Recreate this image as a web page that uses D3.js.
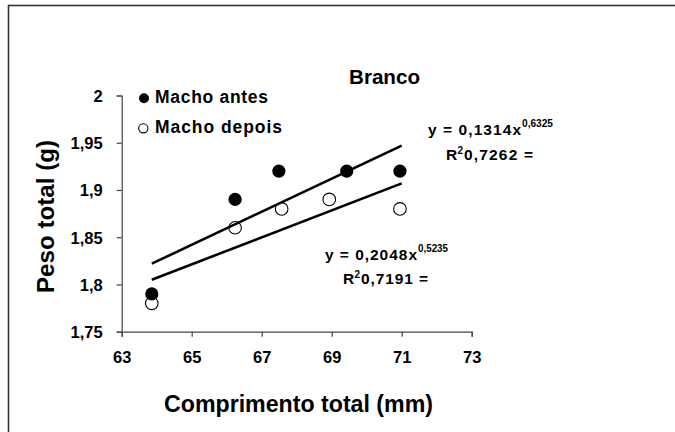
<!DOCTYPE html>
<html>
<head>
<meta charset="utf-8">
<script src="https://cdn.jsdelivr.net/npm/d3@7"></script>
<style>
html,body{margin:0;padding:0;background:#fff;}
text{font-family:Arial,"Liberation Sans",sans-serif;font-weight:bold;fill:#000;}
</style>
</head>
<body>
<svg id="chart" width="675" height="432"></svg>
<script>
// ---- data ----
const xTicks = [63, 65, 67, 69, 71, 73];
const yTicks = [1.75, 1.8, 1.85, 1.9, 1.95, 2];
const seriesNames = ["Macho antes", "Macho depois"];
const comprimentoAntes = [63.86, 66.24, 67.49, 69.43, 70.95];
const pesoAntes = [1.79, 1.89, 1.92, 1.92, 1.92];
const comprimentoDepois = [63.86, 66.24, 67.57, 68.93, 70.95];
const pesoDepois = [1.78, 1.86, 1.88, 1.89, 1.88];
const trendAntesX = [63.86, 71.0];
const trendAntesY = [1.822, 1.947];
const trendDepoisX = [63.86, 71.0];
const trendDepoisY = [1.805, 1.907];
const eqAntes = ["y = 0,1314x", "0,6325", "R", "2", "0,7262 ="];
const eqDepois = ["y = 0,2048x", "0,5235", "R", "2", "0,7191 ="];
const titleText = "Branco";
const xTitle = "Comprimento total (mm)";
const yTitle = "Peso total (g)";

const fmt = v => String(v).replace(".", ",");

const svg = d3.select("#chart");

// frame
svg.append("rect").attr("x", 8.5).attr("y", 5.5).attr("width", 700).attr("height", 500)
  .attr("fill", "none").attr("stroke", "#333").attr("stroke-width", 1.6);

const x = d3.scaleLinear().domain([63, 73]).range([121.7, 471.7]);
const y = d3.scaleLinear().domain([1.75, 2]).range([331.7, 95.5]);

// axes
const xAxis = svg.append("g").attr("transform", `translate(0,${y(1.75)})`)
  .call(d3.axisBottom(x).tickValues(xTicks).tickSize(5).tickPadding(0).tickFormat(fmt));
const yAxis = svg.append("g").attr("transform", `translate(${x(63)},0)`)
  .call(d3.axisLeft(y).tickValues(yTicks).tickSize(5).tickPadding(14).tickFormat(fmt));
[xAxis, yAxis].forEach(g => {
  g.select(".domain").attr("stroke", "#444").attr("stroke-width", 1.2);
  g.selectAll(".tick line").attr("stroke", "#444").attr("stroke-width", 1.2);
  g.selectAll(".tick text").attr("fill", "#000")
    .style("font-family", 'Arial,"Liberation Sans",sans-serif')
    .style("font-weight", "bold").style("font-size", "16.5px");
});
xAxis.selectAll(".tick text").attr("dy", null).attr("y", 31.5);
yAxis.selectAll(".tick text").attr("dy", "0.36em");

// markers
const antes = comprimentoAntes.map((c, i) => [c, pesoAntes[i]]);
const depois = comprimentoDepois.map((c, i) => [c, pesoDepois[i]]);
svg.append("g").selectAll("circle").data(depois).join("circle")
  .attr("cx", d => x(d[0])).attr("cy", d => y(d[1])).attr("r", 6.3)
  .attr("fill", "#fff").attr("stroke", "#000").attr("stroke-width", 1.1);
svg.append("g").selectAll("circle").data(antes).join("circle")
  .attr("cx", d => x(d[0])).attr("cy", d => y(d[1])).attr("r", 6.6)
  .attr("fill", "#000");

// trend lines
const line = d3.line().x(d => x(d[0])).y(d => y(d[1]));
[[trendAntesX, trendAntesY], [trendDepoisX, trendDepoisY]].forEach(([tx, ty]) => {
  svg.append("path").datum(tx.map((v, i) => [v, ty[i]]))
    .attr("d", line).attr("fill", "none").attr("stroke", "#000").attr("stroke-width", 2.6);
});

// title
svg.append("text").attr("x", 384.5).attr("y", 84).attr("text-anchor", "middle")
  .style("font-size", "20px").attr("textLength", 71).attr("lengthAdjust", "spacingAndGlyphs").text(titleText);

// axis titles
svg.append("text").attr("x", 298.5).attr("y", 411.5).attr("text-anchor", "middle")
  .style("font-size", "23px").attr("textLength", 269).attr("lengthAdjust", "spacingAndGlyphs").text(xTitle);
svg.append("text").attr("transform", "translate(53.5,216.5) rotate(-90)").attr("text-anchor", "middle")
  .style("font-size", "23px").attr("textLength", 153).attr("lengthAdjust", "spacingAndGlyphs").text(yTitle);

// legend
const legend = svg.append("g");
legend.append("circle").attr("cx", 144).attr("cy", 98.3).attr("r", 5).attr("fill", "#000");
legend.append("circle").attr("cx", 143.3).attr("cy", 128.3).attr("r", 4.6)
  .attr("fill", "#fff").attr("stroke", "#000").attr("stroke-width", 1.1);
legend.append("text").attr("x", 155).attr("y", 103.3).style("font-size", "17.5px")
  .attr("textLength", 113).attr("lengthAdjust", "spacing").text(seriesNames[0]);
legend.append("text").attr("x", 155).attr("y", 133.3).style("font-size", "17.5px")
  .attr("textLength", 127).attr("lengthAdjust", "spacing").text(seriesNames[1]);

// equations
function equation(eq, p) {
  const g = svg.append("g");
  g.append("text").attr("x", p.x1).attr("y", p.b1).style("font-size", "15.5px")
    .attr("textLength", p.w1).attr("lengthAdjust", "spacing").text(eq[0]);
  g.append("text").attr("x", p.x1 + p.w1 + 1).attr("y", p.b1 - 8).style("font-size", "10.5px")
    .attr("textLength", p.ws).attr("lengthAdjust", "spacingAndGlyphs").text(eq[1]);
  g.append("text").attr("x", p.x2).attr("y", p.b2).style("font-size", "15.5px").text(eq[2]);
  g.append("text").attr("x", p.x2 + 11.5).attr("y", p.b2 - 6).style("font-size", "10px").text(eq[3]);
  g.append("text").attr("x", p.x2 + 18).attr("y", p.b2).style("font-size", "15.5px")
    .attr("textLength", p.w2).attr("lengthAdjust", "spacing").text(eq[4]);
}
equation(eqAntes, {x1: 428, b1: 135, w1: 93, ws: 31, x2: 446, b2: 160, w2: 69});
equation(eqDepois, {x1: 325, b1: 260, w1: 92, ws: 30, x2: 343, b2: 284, w2: 67});
</script>
</body>
</html>
